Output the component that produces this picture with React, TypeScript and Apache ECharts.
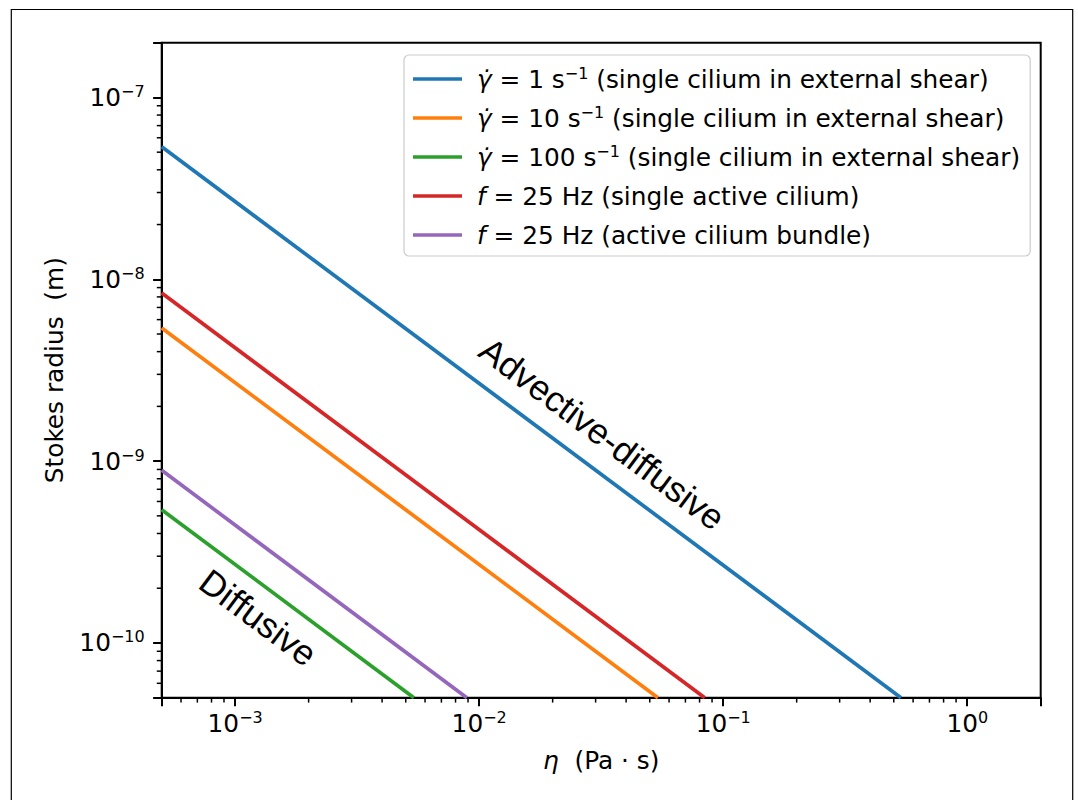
import React, { useEffect, useRef } from 'react';
import * as echarts from 'echarts';

// Axis ranges
const X_MIN = 5e-4;
const X_MAX = 2;
const Y_MIN = 5e-11;
const Y_MAX = 2e-7;

// Series (endpoints of straight lines on log-log axes)
const SERIES_NAMES = [
  'γ̇ = 1 s⁻¹ (single cilium in external shear)',
  'γ̇ = 10 s⁻¹ (single cilium in external shear)',
  'γ̇ = 100 s⁻¹ (single cilium in external shear)',
  'f = 25 Hz (single active cilium)',
  'f = 25 Hz (active cilium bundle)',
];
const LEGEND_RICH = [
  '{i|γ\u0307}{n| = 1 s}{s|−1}{n| (single cilium in external shear)}',
  '{i|γ\u0307}{n| = 10 s}{s|−1}{n| (single cilium in external shear)}',
  '{i|γ\u0307}{n| = 100 s}{s|−1}{n| (single cilium in external shear)}',
  '{i|f}{n| = 25 Hz (single active cilium)}',
  '{i|f}{n| = 25 Hz (active cilium bundle)}',
];
const COLORS = ['#1f77b4', '#ff7f0e', '#2ca02c', '#d62728', '#9467bd'];

const SHEAR_1 = [[5e-4, 5.35e-8], [0.535, 5e-11]];
const SHEAR_10 = [[5e-4, 5.4e-9], [0.054, 5e-11]];
const SHEAR_100 = [[5e-4, 5.4e-10], [0.0054, 5e-11]];
const ACTIVE_SINGLE = [[5e-4, 8.4e-9], [0.084, 5e-11]];
const ACTIVE_BUNDLE = [[5e-4, 8.9e-10], [0.0089, 5e-11]];
const SERIES_DATA = [SHEAR_1, SHEAR_10, SHEAR_100, ACTIVE_SINGLE, ACTIVE_BUNDLE];

// Minor tick positions
const MINOR_X = [
  6e-4, 7e-4, 8e-4, 9e-4,
  2e-3, 3e-3, 4e-3, 5e-3, 6e-3, 7e-3, 8e-3, 9e-3,
  2e-2, 3e-2, 4e-2, 5e-2, 6e-2, 7e-2, 8e-2, 9e-2,
  2e-1, 3e-1, 4e-1, 5e-1, 6e-1, 7e-1, 8e-1, 9e-1,
];
const MINOR_Y = [
  6e-11, 7e-11, 8e-11, 9e-11,
  2e-10, 3e-10, 4e-10, 5e-10, 6e-10, 7e-10, 8e-10, 9e-10,
  2e-9, 3e-9, 4e-9, 5e-9, 6e-9, 7e-9, 8e-9, 9e-9,
  2e-8, 3e-8, 4e-8, 5e-8, 6e-8, 7e-8, 8e-8, 9e-8,
];

const ANNOTATIONS = [
  { text: 'Advective-diffusive', x: 602, y: 434 },
  { text: 'Diffusive', x: 258, y: 618 },
];

const FONT = 'DejaVu Sans';
const FS = 24.8;
const SUP = 16;

const powLabel = (v: number) => {
  const e = Math.round(Math.log10(v));
  if (Math.abs(v / Math.pow(10, e) - 1) > 1e-6) return '';
  return '{b|10}{s|' + (e < 0 ? '−' + -e : String(e)) + '}';
};

const tickRich = {
  b: { fontFamily: FONT, fontSize: FS, lineHeight: 28, color: '#000' },
  s: { fontFamily: FONT, fontSize: SUP, lineHeight: 18.6, verticalAlign: 'top', color: '#000' },
};

export default function App() {
  const ref = useRef<HTMLDivElement>(null);
  useEffect(() => {
    const chart = echarts.init(ref.current!, null, { renderer: 'svg' });
    const grid = { left: 161.7, top: 42.7, width: 879, height: 655 };
    const rot = -Math.atan(182.2 / 244);

    const lineSeries = SERIES_NAMES.map((name, i) => ({
      name,
      type: 'line',
      data: SERIES_DATA[i],
      symbol: 'none',
      clip: true,
      lineStyle: { color: COLORS[i], width: 3.7 },
      itemStyle: { color: COLORS[i] },
      z: 3,
    }));

    const minorX = {
      type: 'custom',
      silent: true,
      data: MINOR_X.map((v) => [v, Y_MIN]),
      encode: { x: 0, y: 1 },
      clip: false,
      renderItem: (_p: any, api: any) => {
        const p = api.coord([api.value(0), Y_MIN]);
        return {
          type: 'line',
          shape: { x1: p[0], y1: p[1], x2: p[0], y2: p[1] + 4.9 },
          style: { stroke: '#000', lineWidth: 1.5 },
        };
      },
    };
    const minorY = {
      type: 'custom',
      silent: true,
      data: MINOR_Y.map((v) => [X_MIN, v]),
      encode: { x: 0, y: 1 },
      clip: false,
      renderItem: (_p: any, api: any) => {
        const p = api.coord([X_MIN, api.value(1)]);
        return {
          type: 'line',
          shape: { x1: p[0], y1: p[1], x2: p[0] - 4.9, y2: p[1] },
          style: { stroke: '#000', lineWidth: 1.5 },
        };
      },
    };

    chart.setOption({
      animation: false,
      backgroundColor: '#ffffff',
      grid: { ...grid, show: true, borderColor: '#000', borderWidth: 2, backgroundColor: 'transparent' },
      xAxis: {
        type: 'log',
        logBase: 10,
        min: X_MIN,
        max: X_MAX,
        axisLine: { show: true, lineStyle: { color: '#000', width: 2 } },
        axisTick: { show: true, inside: false, length: 8.6, lineStyle: { color: '#000', width: 2 } },
        minorTick: { show: false },
        splitLine: { show: false },
        axisLabel: { margin: 12, formatter: powLabel, rich: tickRich, color: '#000' },
        name: '{i|η}{n|  (Pa · s)}',
        nameLocation: 'middle',
        nameGap: 49,
        nameTextStyle: {
          fontFamily: FONT,
          fontSize: FS,
          color: '#000',
          rich: {
            i: { fontFamily: FONT, fontSize: FS, fontStyle: 'italic', lineHeight: 28, color: '#000' },
            n: { fontFamily: FONT, fontSize: FS, lineHeight: 28, color: '#000' },
          },
        },
      },
      yAxis: {
        type: 'log',
        logBase: 10,
        min: Y_MIN,
        max: Y_MAX,
        axisLine: { show: true, lineStyle: { color: '#000', width: 2 } },
        axisTick: { show: true, inside: false, length: 8.6, lineStyle: { color: '#000', width: 2 } },
        minorTick: { show: false },
        splitLine: { show: false },
        axisLabel: { margin: 17, formatter: powLabel, rich: tickRich, color: '#000' },
        name: 'Stokes radius  (m)',
        nameLocation: 'middle',
        nameRotate: 90,
        nameGap: 93,
        nameTextStyle: { fontFamily: FONT, fontSize: FS, lineHeight: 28, color: '#000' },
      },
      legend: {
        data: SERIES_NAMES.map((name) => ({ name, icon: 'rect' })),
        orient: 'vertical',
        left: 404,
        top: 55,
        itemWidth: 49,
        itemHeight: 3.7,
        itemGap: 11,
        padding: [10, 10, 7, 9],
        backgroundColor: 'rgba(255,255,255,0.8)',
        borderColor: '#cccccc',
        borderWidth: 1.2,
        borderRadius: 5,
        selectedMode: false,
        formatter: (name: string) => LEGEND_RICH[SERIES_NAMES.indexOf(name)],
        textStyle: {
          fontFamily: FONT,
          fontSize: FS,
          color: '#000',
          lineHeight: 28,
          height: 28,
          padding: [0, 0, 0, 10],
          rich: {
            i: { fontFamily: FONT, fontSize: FS, fontStyle: 'italic', lineHeight: 28, color: '#000' },
            n: { fontFamily: FONT, fontSize: FS, lineHeight: 28, color: '#000' },
            s: { fontFamily: FONT, fontSize: SUP, lineHeight: 18.6, verticalAlign: 'top', color: '#000' },
          },
        },
      },
      graphic: [
        {
          type: 'rect',
          silent: true,
          z: 0,
          shape: { x: 11.3, y: 9.5, width: 1061.4, height: 830 },
          style: { fill: 'none', stroke: '#000', lineWidth: 1.2 },
        },
        ...ANNOTATIONS.map((a) => ({
          type: 'text',
          silent: true,
          x: a.x,
          y: a.y,
          rotation: rot,
          z: 10,
          style: {
            text: a.text,
            fontFamily: 'Liberation Sans',
            fontSize: 35.5,
            fill: '#000',
            align: 'center',
            verticalAlign: 'middle',
          },
        })),
      ],
      series: [...lineSeries, minorX, minorY],
    });
    return () => chart.dispose();
  }, []);
  return (
    <div
      ref={ref}
      style={{ position: 'absolute', left: 0, top: 0, width: 1078, height: 800, background: '#fff' }}
    />
  );
}
